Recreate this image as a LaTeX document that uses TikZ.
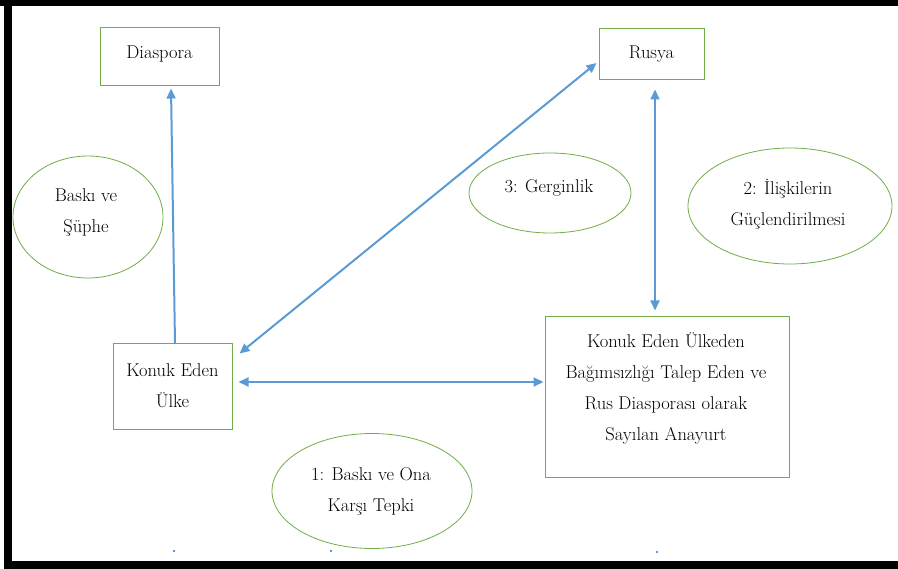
\documentclass[tikz,border=0pt]{standalone}
\usepackage{fontspec}
\usetikzlibrary{arrows.meta,calc,shapes.geometric}
\definecolor{boxgreen}{HTML}{70AD47}
\definecolor{arrblue}{HTML}{5B9BD5}
\tikzset{
  box/.style={draw=boxgreen, line width=1pt, rectangle, inner sep=0pt},
  oval/.style={draw=boxgreen, line width=0.8pt, ellipse, inner sep=0pt},
  txt/.style={align=center, font=\fontsize{18.5}{31}\selectfont, inner sep=0pt},
  arr/.style={draw=arrblue, line width=2pt, -{Triangle[length=10pt,width=9pt]}},
  darr/.style={draw=arrblue, line width=2pt, {Triangle[length=10pt,width=9pt]}-{Triangle[length=10pt,width=9pt]}}
}
\begin{document}
\begin{tikzpicture}[x=1pt,y=-1pt]
\useasboundingbox (0,0) rectangle (898,569);
% frame
\fill[black] (0,0) rectangle (898,6);
\fill[black] (4,0) rectangle (12,569);
\fill[black] (4,561) rectangle (898,569);
% boxes
\node[box, minimum width=119pt, minimum height=58pt] (diaspora) at (159.5,57) {};
\node[txt] (tdiaspora) at (159.5,54) {Diaspora};
\node[box, minimum width=105pt, minimum height=51pt] (rusya) at (651.5,54.5) {};
\node[txt] (trusya) at (651.5,54) {Rusya};
\node[box, minimum width=119pt, minimum height=86pt] (konuk) at (172.5,387) {};
\node[txt] (tkonuk) at (172.5,386) {Konuk Eden\\Ülke};
\node[box, minimum width=244pt, minimum height=161pt] (big) at (667,397.5) {};
\node[txt] (tbig) at (666,388) {Konuk Eden Ülkeden\\Bağımsızlığı Talep Eden ve\\Rus Diasporası olarak\\Sayılan Anayurt};
% ellipses
\node[oval, minimum width=150pt, minimum height=122pt] (e0) at (88,217) {};
\node[txt] (te0) at (86,212) {Baskı ve\\Şüphe};
\node[oval, minimum width=162pt, minimum height=80pt] (e3) at (550,193) {};
\node[txt] (te3) at (549,188) {3: Gerginlik};
\node[oval, minimum width=204pt, minimum height=116pt] (e2) at (790,206) {};
\node[txt] (te2) at (788,204) {2: İlişkilerin\\Güçlendirilmesi};
\node[oval, minimum width=200pt, minimum height=115pt] (e1) at (372,491) {};
\node[txt] (te1) at (371,491) {1: Baskı ve Ona\\Karşı Tepki};
% connectors
\draw[arr] ($(konuk.north)+(2.5,0)$) -- ($(diaspora.south)+(11.5,2)$);
\draw[darr] ($(konuk.east)+(6,-5)$) -- ($(big.west)+(-1,-15.5)$);
\draw[darr] ($(konuk.north east)+(7,10)$) -- ($(rusya.west)+(-2,8.5)$);
\draw[darr] ($(rusya.south)+(3.5,9)$) -- ($(big.north)+(-12,-6)$);
% small marks at bottom
\fill[arrblue] (173,549.5) rectangle (175,551.5);
\fill[arrblue] (330,549.5) rectangle (332,551.5);
\fill[arrblue] (656,550.5) rectangle (658,552.5);
\end{tikzpicture}
\end{document}
